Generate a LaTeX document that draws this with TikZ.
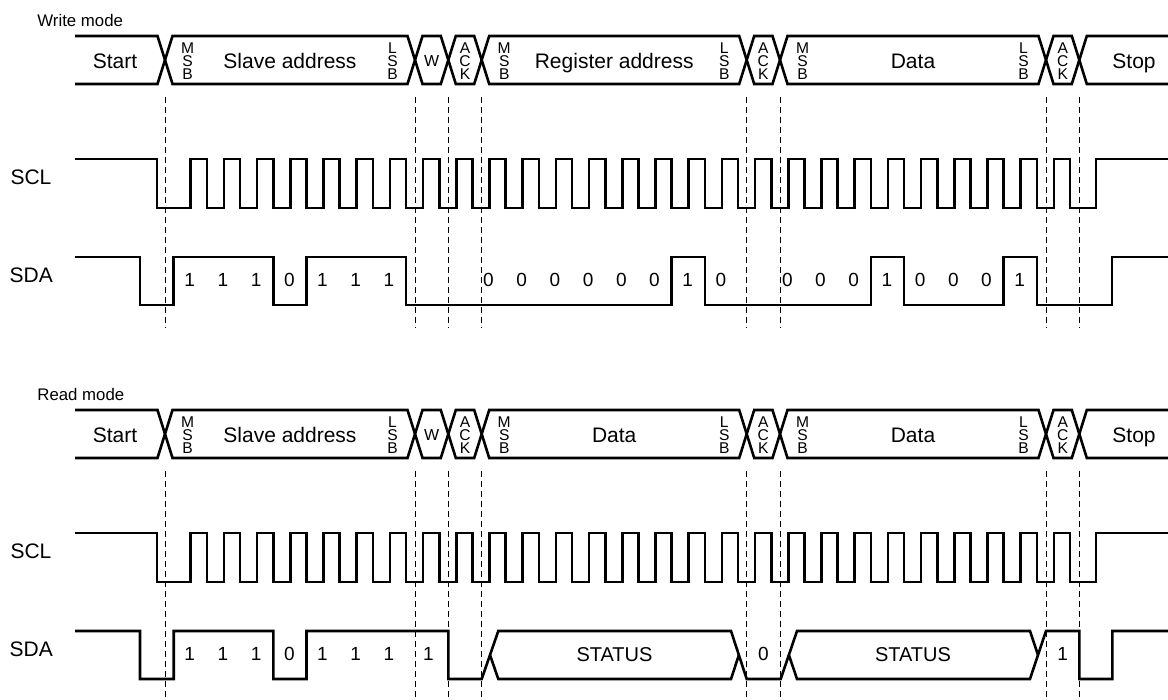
\documentclass[tikz,border=0pt]{standalone}
\usepackage{fontspec}
\setmainfont{Liberation Sans}
\tikzset{>=latex}
\newcommand{\bitx}[1]{173.7+33.2*#1}

\begin{document}
\begin{tikzpicture}[x=0.5pt, y=-0.5pt,
  wave/.style={line width=1.3pt},
  guide/.style={line width=0.5pt, dash pattern=on 3pt off 2pt},
  big/.style={font=\fontsize{10.5}{12}\selectfont, anchor=base},
  bitnum/.style={font=\fontsize{9.5}{11}\selectfont, anchor=base},
  tiny/.style={font=\fontsize{7.8}{6.4}\selectfont, align=center, inner sep=0pt}]
\useasboundingbox (0,0) rectangle (1168,700);

% common parts of both modes
\foreach \ys/\mode/\mid in {0pt/Write/Register address, -187pt/Read/Data} {
\begin{scope}[yshift=\ys]
\node[font=\fontsize{8.4}{10}\selectfont, anchor=base west, inner sep=0pt] (title-\mode) at (37,26.7) {\mode\ mode};
% bus
\draw[wave] (75,36) -- (157.5,36) -- (165,60) -- (157.5,84) -- (75,84);
\foreach \a/\b in {165/415, 415/448.3, 448.3/481.7, 481.7/746.7, 746.7/780, 780/1046, 1046/1079.3}
  \draw[wave] ({\a+7.5},36) -- ({\b-7.5},36) -- (\b,60) -- ({\b-7.5},84) -- ({\a+7.5},84) -- (\a,60) -- cycle;
\draw[wave] (1168,36) -- (1086.8,36) -- (1079.3,60) -- (1086.8,84) -- (1168,84);
\node[big] (start-\mode) at (115,68.3) {Start};
\node[big] (slave-\mode) at (290,68.3) {Slave address};
\node[big] (mid-\mode) at (614.2,68.3) {\mid};
\node[big] (data-\mode) at (913,68.3) {Data};
\node[big] (stop-\mode) at (1134,68.3) {Stop};
\node[tiny, font=\fontsize{8}{9}\selectfont] (w-\mode) at (431.7,61) {W};
\foreach \x [count=\i] in {187.5, 504.2, 802.5} \node[tiny] (msb\i-\mode) at (\x,61.3) {M\\S\\B};
\foreach \x [count=\i] in {392.5, 724.2, 1023.5} \node[tiny] (lsb\i-\mode) at (\x,61.3) {L\\S\\B};
\foreach \x [count=\i] in {465, 763.3, 1062.7} \node[tiny] (ack\i-\mode) at (\x,61.3) {A\\C\\K};
% guides
\foreach \x in {165,415,448.3,481.7,746.7,780,1046,1079.3} \draw[guide] (\x,97) -- (\x,328);
% SCL
\node[big] (scl-\mode) at (31,184.3) {SCL};
\draw[wave] (75,159) -- (157,159) -- (157,208) \foreach \n in {0,...,26} { -- ({\bitx{\n}+17},208) -- ++(0,-49) -- ({\bitx{\n}+33.2},159) -- ++(0,49) } -- (1096,208) -- (1096,159) -- (1168,159);
\node[big] (sda-\mode) at (31.3,282.7) {SDA};
\end{scope}
}

% SDA, write mode
\draw[wave] (75,257) -| (140,305) -| ({\bitx{0}},257) -| ({\bitx{3}},305) -| ({\bitx{4}},257) -| ({\bitx{7}},305) -| ({\bitx{15}},257) -| ({\bitx{16}},305) -| ({\bitx{21}},257) -| ({\bitx{22}},305) -| ({\bitx{25}},257) -| ({\bitx{26}},305) -| (1112,257) -- (1168,257);
\foreach \n/\v in {0/1,1/1,2/1,3/0,4/1,5/1,6/1, 9/0,10/0,11/0,12/0,13/0,14/0,15/1,16/0, 18/0,19/0,20/0,21/1,22/0,23/0,24/0,25/1}
  \node[bitnum] (wbit\n) at ({\bitx{\n}+16},286.7) {\v};

% SDA, read mode
\begin{scope}[yshift=-187pt]
\draw[wave] (75,257) -| (140,305) -| ({\bitx{0}},257) -| ({\bitx{3}},305) -| ({\bitx{4}},257) -| (448.3,305) -- (481.7,305) -- (498.3,257) -- (731,257) -- (746.7,305) -- (780.7,305) -- (797,257) -- (1030,257) -- (1038,281);
\draw[wave] (490,281) -- (498.3,305) -- (731,305) -- (738.9,281);
\draw[wave] (788.9,281) -- (797,305) -- (1030,305) -- (1046,257) -| (1079.3,305) -| (1112.3,257) -- (1168,257);
\foreach \n/\v in {0/1,1/1,2/1,3/0,4/1,5/1,6/1}
  \node[bitnum] (rbit\n) at ({\bitx{\n}+16},286.7) {\v};
\node[bitnum] (rw) at (428.3,286.7) {1};
\node[bitnum] (rack1) at (763.3,286.7) {0};
\node[bitnum] (rack2) at (1062.7,286.7) {1};
\node[font=\fontsize{10}{12}\selectfont, anchor=base] (status1) at (614.5,287.7) {STATUS};
\node[font=\fontsize{10}{12}\selectfont, anchor=base] (status2) at (913,287.7) {STATUS};
\end{scope}
\end{tikzpicture}
\end{document}
